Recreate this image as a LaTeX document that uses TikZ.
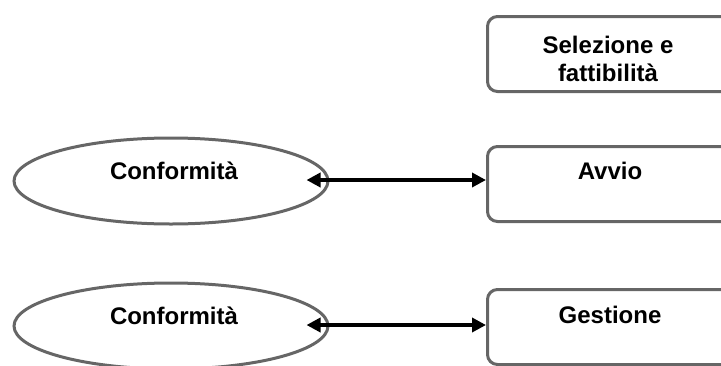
\documentclass[tikz,border=0pt]{standalone}
\usepackage{fontspec}
\setmainfont{Liberation Sans}
\usetikzlibrary{shapes.geometric,arrows.meta}
\definecolor{edgegray}{HTML}{666666}
\begin{document}
\begin{tikzpicture}[x=1pt,y=-1pt,
  phase/.style={draw=edgegray,line width=3pt,rounded corners=10pt,
    minimum width=256pt,minimum height=75pt,inner sep=0pt,anchor=north west},
  oval/.style={draw=edgegray,line width=3pt,ellipse,
    minimum width=314pt,minimum height=86pt,inner sep=0pt},
  lbl/.style={font=\bfseries\fontsize{24}{28}\selectfont,align=center,inner sep=0pt},
  link/.style={line width=3.6pt,{Triangle[length=14pt,width=14pt]}-{Triangle[length=14pt,width=14pt]}}]
\useasboundingbox (0,0) rectangle (721,365);
\clip (0,0) rectangle (721,365);

% process phases on the right
\node[phase] (sel) at (486,15) {};
\node[phase] (avvio) at (486,145) {};
\node[phase] (gest) at (486,288) {};
\node[lbl] (selt) at (608,59) {Selezione e\\fattibilità};
\node[lbl] (avviot) at (610,171) {Avvio};
\node[lbl] (gestt) at (610,315) {Gestione};

% compliance ovals on the left
\node[oval] (conf1) at (171,181) {};
\node[oval] (conf2) at (171,326) {};
\node[lbl] (conf1t) at (174,171) {Conformità};
\node[lbl] (conf2t) at (174,316) {Conformità};

% two-way links
\coordinate (a1) at ([xshift=-23pt,yshift=1pt]conf1.east);
\coordinate (a2) at ([xshift=-23pt,yshift=1pt]conf2.east);
\draw[link] (a1) -- (a1 -| avvio.west);
\draw[link] (a2) -- (a2 -| gest.west);
\end{tikzpicture}
\end{document}
